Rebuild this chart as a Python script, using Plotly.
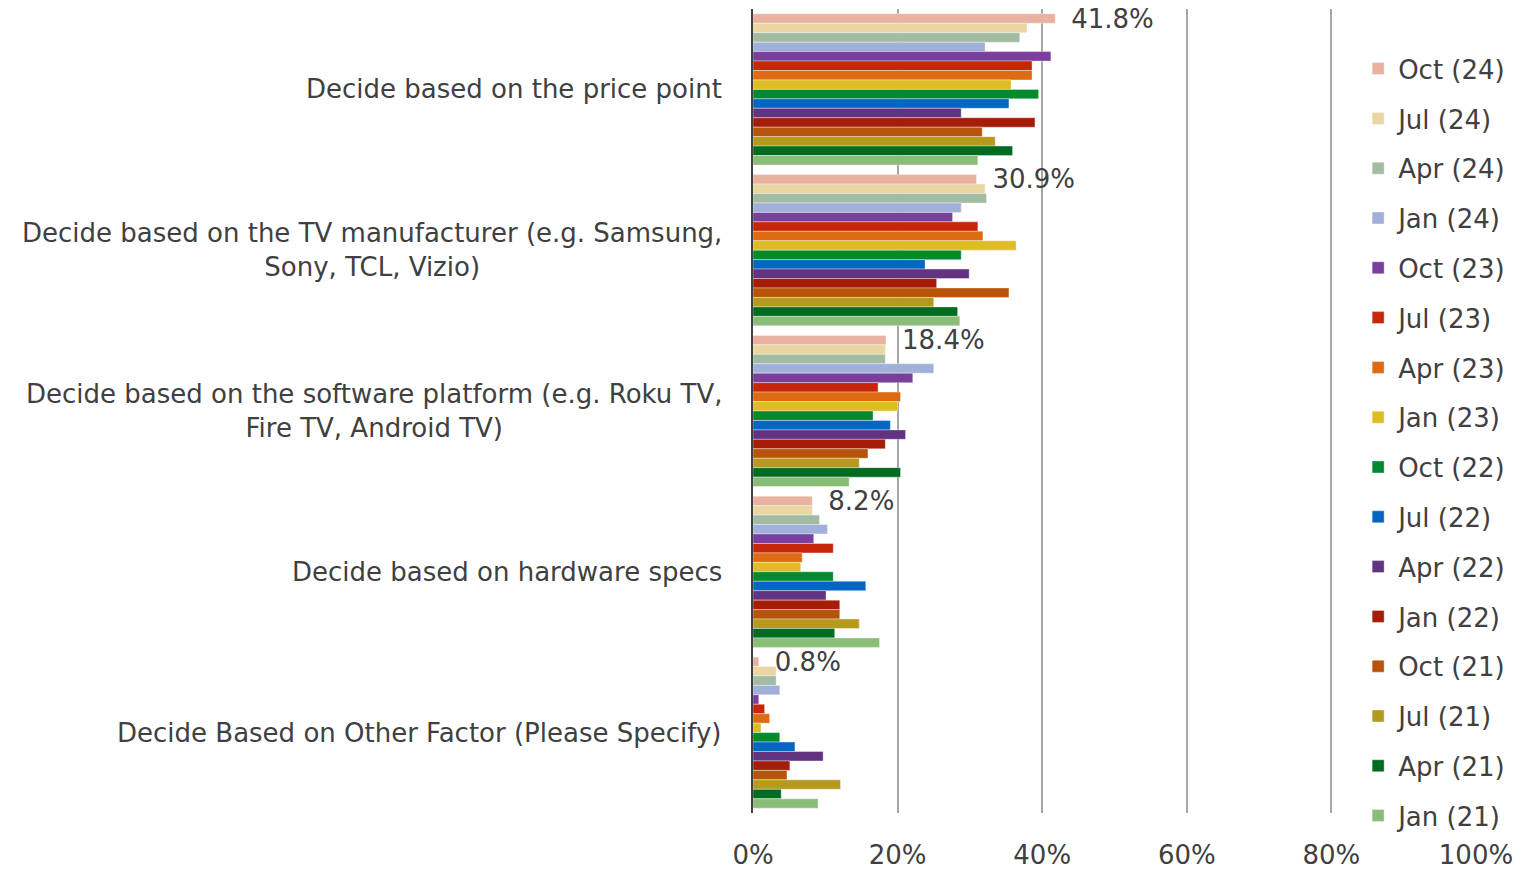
import plotly.graph_objects as go

categories = [
    "Decide based on the price point",
    "Decide based on the TV manufacturer (e.g. Samsung,<br>Sony, TCL, Vizio)",
    "Decide based on the software platform (e.g. Roku TV,<br>Fire TV, Android TV)",
    "Decide based on hardware specs",
    "Decide Based on Other Factor (Please Specify)",
]

series_names = ["Oct (24)", "Jul (24)", "Apr (24)", "Jan (24)", "Oct (23)", "Jul (23)",
                "Apr (23)", "Jan (23)", "Oct (22)", "Jul (22)", "Apr (22)", "Jan (22)",
                "Oct (21)", "Jul (21)", "Apr (21)", "Jan (21)"]

colors = ["#E9B1A0", "#E9D6A2", "#A1BCA2", "#A0B0D9", "#7A3E9C", "#C8260A",
          "#DE6A12", "#DDBC24", "#038A2E", "#0367C1", "#623381", "#A51D07",
          "#B8530C", "#B69A1E", "#016B21", "#8ABD78"]

# values in %, per series: [price, manufacturer, software, hardware, other]
oct24 = [41.8, 30.9, 18.4, 8.2, 0.8]
jul24 = [37.9, 32.1, 18.3, 8.2, 3.2]
apr24 = [36.9, 32.3, 18.3, 9.2, 3.2]
jan24 = [32.1, 28.8, 25.0, 10.3, 3.7]
oct23 = [41.2, 27.6, 22.1, 8.4, 0.8]
jul23 = [38.6, 31.1, 17.3, 11.1, 1.6]
apr23 = [38.6, 31.8, 20.4, 6.8, 2.3]
jan23 = [35.7, 36.4, 20.0, 6.6, 1.1]
oct22 = [39.5, 28.8, 16.6, 11.1, 3.7]
jul22 = [35.4, 23.8, 19.0, 15.6, 5.8]
apr22 = [28.8, 29.9, 21.1, 10.1, 9.7]
jan22 = [39.0, 25.4, 18.3, 12.0, 5.1]
oct21 = [31.7, 35.4, 15.9, 12.0, 4.7]
jul21 = [33.5, 25.0, 14.7, 14.7, 12.1]
apr21 = [35.9, 28.3, 20.4, 11.3, 3.9]
jan21 = [31.1, 28.6, 13.3, 17.5, 9.0]

all_series = [oct24, jul24, apr24, jan24, oct23, jul23, apr23, jan23,
              oct22, jul22, apr22, jan22, oct21, jul21, apr21, jan21]

FONT = "DejaVu Sans"
TXT = "#404040"
FS = 26

fig = go.Figure()
for i, (name, vals, col) in enumerate(zip(series_names, all_series, colors)):
    kw = {}
    if i == 0:
        kw = dict(
            text=["\u2002" + f"{v:.1f}%" for v in vals],
            textposition="outside",
            constraintext="none",
            cliponaxis=False,
            textfont=dict(family=FONT, size=FS, color=TXT),
        )
    fig.add_trace(go.Bar(
        x=[v / 100 for v in vals],
        y=categories,
        orientation="h",
        name=name,
        legendgroup=name,
        marker=dict(color=col, line=dict(color="rgba(255,255,255,0.6)", width=0.6)),
        **kw,
    ))

for c in categories:
    fig.add_annotation(
        x=0, xref="paper", y=c, yref="y",
        text=c, showarrow=False, xanchor="right", align="center",
        xshift=-29, font=dict(family=FONT, size=FS, color=TXT),
    )

fig.update_layout(
    width=1524, height=861,
    barmode="group", bargap=0.06, bargroupgap=0,
    plot_bgcolor="white", paper_bgcolor="white",
    margin=dict(l=745, r=56, t=1, b=56, autoexpand=False),
    font=dict(family=FONT, size=FS, color=TXT),
    showlegend=True,
    legend=dict(
        x=0.837, y=0.955, xanchor="left", yanchor="top",
        bgcolor="rgba(0,0,0,0)", traceorder="grouped",
        tracegroupgap=13.0, font=dict(family=FONT, size=FS, color=TXT),
        itemwidth=30, maxheight=1000,
    ),
    xaxis=dict(
        range=[0, 1], tickvals=[0, 0.2, 0.4, 0.6, 0.8, 1.0],
        ticktext=["0%", "20%", "40%", "60%", "80%", "100%"],
        showgrid=True, gridcolor="#A6A6A6", gridwidth=2,
        zeroline=False, showline=False, ticks="",
        ticklabelstandoff=24, automargin=False,
        tickfont=dict(family=FONT, size=FS, color=TXT),
    ),
    yaxis=dict(
        autorange="reversed", showticklabels=False, ticks="",
        showline=True, linecolor="#404040", linewidth=2,
        showgrid=False, zeroline=False, automargin=False,
    ),
)

fig.write_html("out.html")
